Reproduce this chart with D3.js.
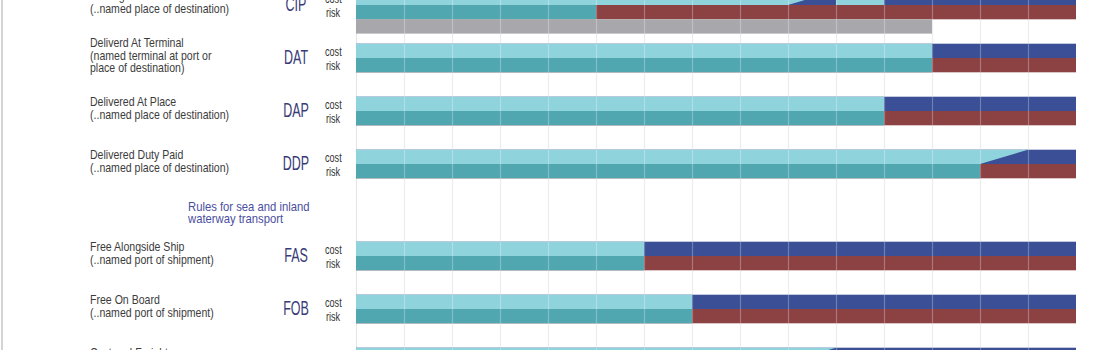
<!DOCTYPE html>
<html>
<head>
<meta charset="utf-8">
<script src="https://cdn.jsdelivr.net/npm/d3@7"></script>
<style>
  html, body { margin: 0; padding: 0; background: #fff; }
  svg { display: block; font-family: "Liberation Sans", Arial, sans-serif; }
</style>
</head>
<body>
<svg id="chart" width="1100" height="350"></svg>
<script>
// Incoterms: how far along the shipping chain the seller carries cost and risk
const terms = ["CIP", "DAT", "DAP", "DDP", "FAS", "FOB", "CFR"];
const termTitles = [
  "Carriage and Insurance Paid to",
  "Deliverd At Terminal",
  "Delivered At Place",
  "Delivered Duty Paid",
  "Free Alongside Ship",
  "Free On Board",
  "Cost and Freight"
];
const termNotes = [
  ["(..named place of destination)"],
  ["(named terminal at port or", "place of destination)"],
  ["(..named place of destination)"],
  ["(..named place of destination)"],
  ["(..named port of shipment)"],
  ["(..named port of shipment)"],
  ["(..named port of destination)"]
];
const termGroup = ["any", "any", "any", "any", "sea", "sea", "sea"];
const groupHeading = { sea: ["Rules for sea and inland", "waterway transport"] };

// stage (0..15) where the cost passes to the buyer, along the bottom and top edge of the bar
const costTransferBottom = [9, 12, 11, 13, 6, 7, 9];
const costTransferTop    = [10, 12, 11, 14, 6, 7, 10];
// stage where the risk passes to the buyer
const riskTransfer       = [5, 12, 11, 13, 6, 7, 7];
// additional stretch still paid by the seller, and the insurance cover
const sellerCostExtra    = [[10, 11], null, null, null, null, null, null];
const insuranceCover     = [12, null, null, null, null, null, null];
const stageMax = 15;
const gridStages = d3.range(0, 15);

const colors = {
  sellerCost: "#8fd3dc",
  sellerRisk: "#50a7b0",
  buyerCost: "#3a4f96",
  buyerRisk: "#8c4143",
  insurance: "#a8a8ac",
  grid: "#e6e6e6",
  text: "#3c3c3c",
  code: "#383b78",
  heading: "#4a4ea0"
};

const svg = d3.select("#chart");
const W = 1100, H = 350;

const x = d3.scaleLinear().domain([0, stageMax]).range([356, 1076]);

// vertical layout: rows of equal step, a shorter slot where a group heading starts
const rowStep = 53, headingStep = 39, barH = 14.3, firstTop = -9.3;
const rows = [];
let cursor = firstTop;
terms.forEach((t, i) => {
  if (i > 0 && termGroup[i] !== termGroup[i - 1]) {
    rows.push({ heading: groupHeading[termGroup[i]], top: cursor });
    cursor += headingStep;
  }
  rows.push({ i, top: cursor });
  cursor += rowStep;
});
const termRows = rows.filter(r => r.heading === undefined);
const headingRows = rows.filter(r => r.heading !== undefined);

// frame line
svg.append("line").attr("x1", 2).attr("x2", 2).attr("y1", 0).attr("y2", H)
  .attr("stroke", "#d4d4d4").attr("stroke-width", 2);

// background grid
const grid = svg.append("g");
grid.selectAll("line").data(gridStages).join("line")
  .attr("x1", d => x(d) + 0.5).attr("x2", d => x(d) + 0.5)
  .attr("y1", 0).attr("y2", H)
  .attr("stroke", colors.grid).attr("stroke-width", 1.2);

const bars = svg.append("g");
termRows.forEach(r => {
  const i = r.i, top = r.top;
  const g = bars.append("g");
  // cost bar: buyer part underneath, seller part on top
  g.append("rect").attr("x", x(0)).attr("y", top)
    .attr("width", x(stageMax) - x(0)).attr("height", barH)
    .attr("fill", colors.buyerCost);
  const lo = costTransferBottom[i], hi = costTransferTop[i];
  g.append("path")
    .attr("d", d3.line()([
      [x(0), top], [x(hi), top], [x(lo), top + barH], [x(0), top + barH]
    ]) + "Z")
    .attr("fill", colors.sellerCost);
  if (sellerCostExtra[i]) {
    const [a, b] = sellerCostExtra[i];
    g.append("rect").attr("x", x(a)).attr("y", top)
      .attr("width", x(b) - x(a)).attr("height", barH)
      .attr("fill", colors.sellerCost);
  }
  // risk bar
  g.append("rect").attr("x", x(0)).attr("y", top + barH)
    .attr("width", x(stageMax) - x(0)).attr("height", barH)
    .attr("fill", colors.buyerRisk);
  g.append("rect").attr("x", x(0)).attr("y", top + barH)
    .attr("width", x(riskTransfer[i]) - x(0)).attr("height", barH)
    .attr("fill", colors.sellerRisk);
  // insurance cover
  if (insuranceCover[i] != null) {
    g.append("rect").attr("x", x(0)).attr("y", top + 2 * barH)
      .attr("width", x(insuranceCover[i]) - x(0)).attr("height", barH)
      .attr("fill", colors.insurance);
  }
});

// faint grid seen through the bars
svg.append("g").selectAll("line").data(gridStages.slice(1)).join("line")
  .attr("x1", d => x(d) + 0.5).attr("x2", d => x(d) + 0.5)
  .attr("y1", 0).attr("y2", H)
  .attr("stroke", "#ffffff").attr("stroke-opacity", 0.28).attr("stroke-width", 1.2);

// text helper: horizontally condensed type
function label(parent, str, px, py, size, sx, fill, anchor) {
  return parent.append("text")
    .attr("transform", `translate(${px},${py}) scale(${sx},1)`)
    .attr("font-size", size)
    .attr("fill", fill)
    .attr("text-anchor", anchor || "start")
    .text(str);
}

const texts = svg.append("g");
termRows.forEach(r => {
  const i = r.i, top = r.top;
  const lines = [termTitles[i]].concat(termNotes[i]);
  const first = top + 9.5 - (lines.length - 2) * 6;
  lines.forEach((s, k) => label(texts, s, 90, first + k * 12.4, 12, 0.88, colors.text));
  label(texts, terms[i], 296, top + 20, 19.5, 0.64, colors.code, "middle");
  label(texts, "cost", 325, top + 11.8, 12, 0.76, "#333");
  label(texts, "risk", 326, top + 26, 12, 0.76, "#333");
});
headingRows.forEach(r => {
  r.heading.forEach((s, k) =>
    label(texts, s, 188, r.top + 7.8 + k * 12, 12, 0.94, colors.heading));
});
</script>
</body>
</html>
